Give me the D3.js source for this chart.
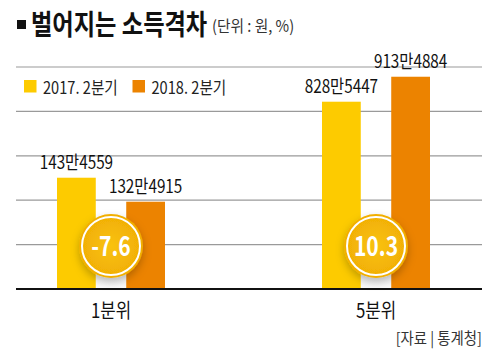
<!DOCTYPE html>
<html><head><meta charset="utf-8">
<script src="https://cdn.jsdelivr.net/npm/d3@7"></script>
<style>
html,body{margin:0;padding:0;background:#fff;}
svg{display:block;}
text{font-family:"Noto Sans CJK KR","Noto Sans",sans-serif;}
</style></head>
<body>
<div id="chart"></div>
<script>
// ---- data ----
const categories = ["1분위", "5분위"];
const seriesNames = ["2017. 2분기", "2018. 2분기"];
const values2017 = [1434559, 8285447];
const values2018 = [1324915, 9134884];
const labels2017 = ["143만4559", "828만5447"];
const labels2018 = ["132만4915", "913만4884"];
const changeRates = ["-7.6", "10.3"];
const titleText = "벌어지는 소득격차";
const unitText = "(단위 : 원, %)";
const sourceText = "[자료 | 통계청]";

// ---- layout ----
const W = 500, H = 355;
const colors = ["#FDCB00", "#EC8300"];
const plotLeft = 16, plotRight = 482, plotBase = 289, plotTop = 67;

const svg = d3.select("#chart").append("svg").attr("width", W).attr("height", H);
const defs = svg.append("defs");
const sh = defs.append("filter").attr("id","shadow").attr("x","-50%").attr("y","-50%").attr("width","200%").attr("height","200%");
sh.append("feDropShadow").attr("dx",0).attr("dy",4).attr("stdDeviation",4).attr("flood-color","#000").attr("flood-opacity",0.25);
const gapGrad = defs.append("linearGradient").attr("id","gapGrad").attr("x1",0).attr("y1",0).attr("x2",0).attr("y2",1);
gapGrad.append("stop").attr("offset","0%").attr("stop-color","#e0e0e0");
gapGrad.append("stop").attr("offset","100%").attr("stop-color","#fcfcfc");
const circGrad = defs.append("radialGradient").attr("id","circGrad");
circGrad.append("stop").attr("offset","0%").attr("stop-color","#F9C20C");
circGrad.append("stop").attr("offset","100%").attr("stop-color","#F1AE05");

function txt(g, x, y, s, o) {
  const t = g.append("text")
    .attr("transform", `translate(${x},${y}) scale(${o.sx || 1},1)`)
    .attr("text-anchor", o.anchor || "start")
    .attr("font-size", o.size)
    .attr("font-weight", o.weight || 400)
    .attr("fill", o.fill || "#222")
    .text(s);
  return t;
}

// title
svg.append("rect").attr("x",17).attr("y",20).attr("width",9).attr("height",9).attr("fill","#111");
txt(svg, 31, 35, titleText, {size: 28, weight: 700, sx: 0.83, fill: "#111"});
txt(svg, 212, 32, unitText, {size: 16, sx: 0.92, fill: "#333"});

// scales
const y = d3.scaleLinear()
  .domain([0, 1250000, 1500000, 8000000, 9500000])
  .range([plotBase, 218.1, 163.4, 110.1, 66]);
const x = d3.scalePoint().domain(categories).range([111, 376]);
const xs = d3.scaleBand().domain(seriesNames).range([-54, 54]).paddingInner(0.44);

// gridlines
const gridYs = d3.range(1, 6).map(k => plotBase - k * (plotBase - plotTop) / 5);
svg.selectAll("line.grid").data(gridYs).join("line")
  .attr("class","grid").attr("x1", plotLeft).attr("x2", plotRight)
  .attr("y1", d => d).attr("y2", d => d)
  .attr("stroke", "#9a9a9a").attr("stroke-width", 1.2);

// legend
const leg = svg.append("g");
seriesNames.forEach((s, i) => {
  const lx = 24 + i * 108.5;
  leg.append("rect").attr("x", lx).attr("y", 80).attr("width", 12.5).attr("height", 12.5).attr("fill", colors[i]);
  txt(leg, lx + 19, 93.5, s, {size: 17, sx: 0.86, fill: "#222"});
});

const series = [values2017, values2018];
const labels = [labels2017, labels2018];

// gap shading
categories.forEach((c) => {
  const gx0 = x(c) + xs(seriesNames[0]) + xs.bandwidth();
  const gx1 = x(c) + xs(seriesNames[1]);
  svg.append("rect").attr("x", gx0).attr("y", 246).attr("width", gx1 - gx0).attr("height", plotBase - 246)
    .attr("fill", "url(#gapGrad)");
});

// bars
series.forEach((vals, si) => {
  svg.selectAll(null).data(categories).join("rect")
    .attr("x", c => x(c) + xs(seriesNames[si]))
    .attr("y", (c, i) => y(vals[i]))
    .attr("width", xs.bandwidth())
    .attr("height", (c, i) => plotBase - y(vals[i]))
    .attr("fill", colors[si]);
  categories.forEach((c, i) => {
    txt(svg, x(c) + xs(seriesNames[si]) + xs.bandwidth() / 2, y(vals[i]) - 9, labels[si][i],
      {size: 18, sx: 0.85, anchor: "middle", fill: "#111"});
  });
});

// baseline
svg.append("line").attr("x1", plotLeft).attr("x2", plotRight).attr("y1", plotBase).attr("y2", plotBase)
  .attr("stroke", "#111").attr("stroke-width", 2);

// change circles
categories.forEach((c, i) => {
  const cx = x(c), cy = 246;
  const g = svg.append("g");
  g.append("circle").attr("cx", cx).attr("cy", cy).attr("r", 32).attr("fill", "url(#circGrad)").attr("filter", "url(#shadow)");
  g.append("circle").attr("cx", cx).attr("cy", cy).attr("r", 29).attr("fill", "none").attr("stroke", "#fff").attr("stroke-width", 2);
  txt(g, cx, cy + 10, changeRates[i], {size: 27, weight: 700, sx: 0.78, anchor: "middle", fill: "#fff"});
});

// category labels
categories.forEach(c => {
  txt(svg, x(c), 318, c, {size: 20, sx: 0.84, anchor: "middle", fill: "#111"});
});

// source
txt(svg, plotRight, 344, sourceText, {size: 15.5, sx: 0.93, anchor: "end", fill: "#333"});
</script>
</body></html>
